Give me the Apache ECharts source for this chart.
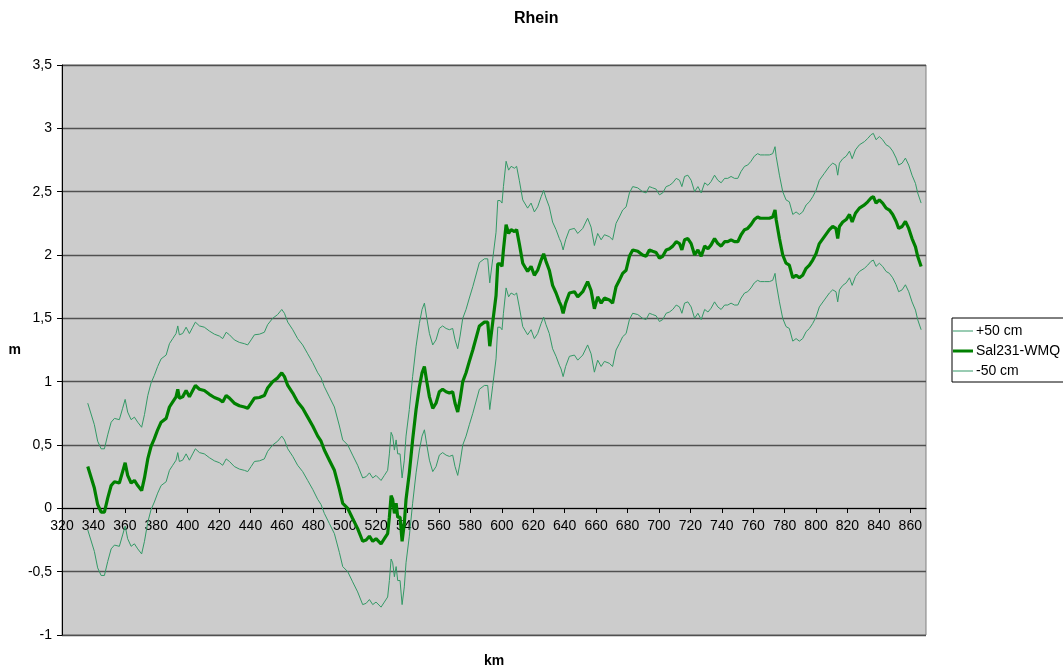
<!DOCTYPE html>
<html>
<head>
<meta charset="utf-8">
<title>Rhein</title>
<script src="https://cdn.jsdelivr.net/npm/echarts@6/dist/echarts.min.js"></script>
<style>
  html, body { margin: 0; padding: 0; background: #ffffff; }
  #chart { width: 1063px; height: 669px; }
</style>
</head>
<body>
<div id="chart"></div>
<script>
// River kilometre positions (km) of the water-level profile
const km = [
  336.4, 340.6, 342.7, 344.9, 347.0, 349.1, 351.3, 353.4, 356.5, 358.6,
  360.2, 361.8, 364.0, 366.1, 368.2, 370.7, 372.5, 374.6, 376.7, 378.8,
  380.9, 383.1, 386.3, 388.4, 390.5, 392.6, 393.7, 394.7, 396.8, 399.0,
  401.1, 403.2, 404.9, 407.5, 410.6, 413.8, 417.0, 420.2, 422.3, 424.5,
  426.6, 429.7, 432.9, 436.1, 438.2, 440.4, 442.5, 445.7, 448.8, 450.9,
  454.1, 457.3, 459.9, 461.6, 463.7, 466.9, 470.0, 473.2, 476.4, 479.6,
  482.8, 484.9, 487.0, 490.2, 493.4, 496.6, 498.7, 501.9, 505.0, 508.2,
  511.4, 513.6, 515.7, 517.8, 519.9, 523.1, 525.2, 527.3, 528.4, 529.5,
  530.5, 531.6, 532.7, 533.7, 535.2, 536.5, 537.9, 539.0, 541.1, 543.2,
  545.4, 547.5, 549.2, 550.7, 552.1, 553.9, 556.0, 558.1, 560.2, 562.3,
  564.5, 566.6, 568.7, 570.2, 571.9, 573.4, 575.1, 577.2, 579.3, 581.5,
  585.7, 588.9, 591.0, 592.3, 594.2, 596.3, 597.4, 598.9, 600.1, 601.0,
  602.7, 604.3, 605.9, 608.0, 609.4, 611.1, 613.3, 616.4, 618.6, 620.7,
  622.8, 625.0, 626.6, 628.1, 630.2, 632.3, 634.5, 636.6, 637.7, 639.0,
  640.6, 643.0, 646.2, 648.3, 651.5, 654.6, 656.8, 658.9, 661.0, 663.2,
  665.3, 668.4, 670.5, 672.7, 674.8, 676.9, 679.1, 681.2, 683.3, 686.5,
  689.6, 691.8, 693.9, 696.0, 698.2, 700.3, 702.4, 704.6, 706.7, 708.8,
  711.0, 713.1, 714.6, 716.3, 718.4, 720.5, 722.7, 724.8, 726.9, 729.1,
  731.2, 733.2, 735.4, 737.5, 739.6, 741.8, 743.8, 745.9, 748.1, 750.2,
  752.3, 754.5, 756.5, 758.6, 760.7, 762.8, 764.5, 767.1, 770.3, 772.4,
  773.9, 774.6, 776.7, 778.8, 780.9, 783.0, 785.2, 787.3, 789.4, 791.5,
  793.7, 795.8, 797.9, 800.0, 802.1, 805.3, 808.5, 810.6, 812.7, 813.8,
  814.9, 817.0, 819.2, 821.3, 823.0, 825.1, 827.6, 830.8, 832.9, 835.0,
  836.5, 838.2, 840.3, 842.4, 844.6, 846.7, 848.8, 851.0, 852.6, 854.8,
  856.9, 859.0, 861.1, 863.3, 864.7, 866.9
];

// Water level Sal231-WMQ (m) at each kilometre
const level = [
  0.33, 0.16, 0.03, -0.03, -0.03, 0.08, 0.18, 0.21, 0.20, 0.29,
  0.36, 0.26, 0.20, 0.22, 0.18, 0.14, 0.24, 0.39, 0.49, 0.55,
  0.62, 0.68, 0.71, 0.80, 0.84, 0.88, 0.94, 0.87, 0.88, 0.93,
  0.88, 0.93, 0.97, 0.94, 0.93, 0.90, 0.875, 0.86, 0.84, 0.89,
  0.87, 0.83, 0.81, 0.80, 0.79, 0.83, 0.87, 0.875, 0.89, 0.95,
  1.00, 1.03, 1.07, 1.04, 0.97, 0.91, 0.84, 0.79, 0.72, 0.65,
  0.57, 0.53, 0.46, 0.38, 0.30, 0.15, 0.04, 0.00, -0.08, -0.16,
  -0.26, -0.25, -0.22, -0.26, -0.24, -0.28, -0.24, -0.20, -0.07, 0.10,
  0.07, -0.04, 0.04, -0.07, -0.07, -0.26, -0.12, 0.07, 0.28, 0.54,
  0.78, 0.96, 1.07, 1.12, 1.01, 0.88, 0.79, 0.83, 0.92, 0.94,
  0.92, 0.91, 0.92, 0.83, 0.76, 0.86, 1.00, 1.07, 1.16, 1.25,
  1.44, 1.47, 1.47, 1.28, 1.47, 1.68, 1.93, 1.93, 1.91, 2.04,
  2.24, 2.17, 2.20, 2.185, 2.20, 2.09, 1.935, 1.87, 1.91, 1.84,
  1.88, 1.96, 2.01, 1.95, 1.88, 1.76, 1.70, 1.63, 1.60, 1.54,
  1.62, 1.70, 1.71, 1.67, 1.71, 1.79, 1.72, 1.575, 1.67, 1.62,
  1.66, 1.645, 1.62, 1.75, 1.80, 1.855, 1.88, 1.99, 2.04, 2.03,
  2.00, 1.99, 2.04, 2.03, 2.02, 1.975, 1.99, 2.04, 2.05, 2.07,
  2.105, 2.09, 2.04, 2.12, 2.13, 2.09, 2.00, 2.04, 1.99, 2.07,
  2.05, 2.08, 2.13, 2.09, 2.07, 2.105, 2.105, 2.12, 2.105, 2.105,
  2.16, 2.20, 2.21, 2.24, 2.28, 2.30, 2.29, 2.29, 2.29, 2.30,
  2.355, 2.28, 2.13, 2.00, 1.935, 1.92, 1.82, 1.84, 1.82, 1.84,
  1.895, 1.92, 1.96, 2.01, 2.09, 2.145, 2.20, 2.225, 2.21, 2.13,
  2.225, 2.26, 2.28, 2.32, 2.26, 2.33, 2.37, 2.395, 2.42, 2.45,
  2.46, 2.41, 2.435, 2.41, 2.37, 2.355, 2.32, 2.265, 2.21, 2.225,
  2.265, 2.21, 2.13, 2.065, 1.99, 1.91
];

// Tolerance band: +/- 50 cm around the water level
const BAND_M = 0.5;

const seriesNames = ['+50 cm', 'Sal231-WMQ', '-50 cm'];

const mainPoints = km.map((k, i) => [k, level[i]]);
const upperPoints = km.map((k, i) => [k, +(level[i] + BAND_M).toFixed(3)]);
const lowerPoints = km.map((k, i) => [k, +(level[i] - BAND_M).toFixed(3)]);

const FONT = 'Liberation Sans, Arial, Helvetica, sans-serif';
const commaNum = v => String(v).replace('.', ',');

// Plain line-segment legend keys: thin for the band, thick for the level
const THIN_KEY = 'path://M0,0H20V1H0Z';
const THICK_KEY = 'path://M0,0H20V3H0Z';

// Plot frame (px) and y range; the km axis is drawn across the 0 m level
const GRID = { left: 62, top: 65, right: 137, bottom: 34 };
const Y_MIN = -1, Y_MAX = 3.5;
const PLOT_H = 669 - GRID.top - GRID.bottom;
const ZERO_SHIFT = Math.round(PLOT_H * (0 - Y_MIN) / (Y_MAX - Y_MIN));

const chart = echarts.init(document.getElementById('chart'), null, { renderer: 'canvas' });

chart.setOption({
  backgroundColor: '#ffffff',
  animation: false,
  textStyle: { fontFamily: FONT },
  title: {
    text: 'Rhein',
    left: 509,
    top: 6,
    textStyle: { fontFamily: FONT, fontSize: 16, fontWeight: 'bold', color: '#000000' }
  },
  legend: {
    orient: 'vertical',
    left: 952,
    top: 318,
    padding: [6, 30, 4, 1],
    itemGap: 6,
    itemWidth: 20,
    itemHeight: 14,
    symbolKeepAspect: true,
    backgroundColor: '#ffffff',
    borderColor: '#000000',
    borderWidth: 1,
    borderRadius: 0,
    data: [
      { name: seriesNames[0], icon: THIN_KEY },
      { name: seriesNames[1], icon: THICK_KEY },
      { name: seriesNames[2], icon: THIN_KEY }
    ],
    textStyle: { fontFamily: FONT, fontSize: 14, color: '#000000', padding: [0, 0, 0, -2] }
  },
  grid: {
    left: GRID.left,
    top: GRID.top,
    right: GRID.right,
    bottom: GRID.bottom,
    show: true,
    backgroundColor: '#cccccc',
    borderColor: '#808080',
    borderWidth: 1,
    containLabel: false,
    outerBoundsMode: 'none'
  },
  xAxis: {
    type: 'value',
    position: 'bottom',
    offset: -ZERO_SHIFT,
    min: 320,
    max: 870,
    interval: 20,
    name: 'km',
    nameLocation: 'middle',
    nameGap: 146,
    nameTextStyle: { fontFamily: FONT, fontSize: 14, fontWeight: 'bold', color: '#000000' },
    axisLine: { show: true, onZero: false, lineStyle: { color: '#000000', width: 1 } },
    axisTick: { show: true, length: 5, lineStyle: { color: '#000000' } },
    axisLabel: {
      fontFamily: FONT, fontSize: 14, color: '#000000', margin: 11,
      showMaxLabel: false
    },
    splitLine: { show: false }
  },
  yAxis: {
    type: 'value',
    min: Y_MIN,
    max: Y_MAX,
    interval: 0.5,
    name: 'm',
    nameLocation: 'middle',
    nameRotate: 0,
    nameGap: 41,
    nameTextStyle: { fontFamily: FONT, fontSize: 14, fontWeight: 'bold', color: '#000000' },
    axisLine: { show: true, lineStyle: { color: '#000000', width: 1 } },
    axisTick: { show: true, length: 5, lineStyle: { color: '#000000' } },
    axisLabel: { fontFamily: FONT, fontSize: 14, color: '#000000', margin: 10, formatter: commaNum },
    splitLine: { show: true, lineStyle: { color: '#505050', width: 1.3 } }
  },
  series: [
    {
      name: seriesNames[0],
      type: 'line',
      data: upperPoints,
      symbol: 'none',
      showSymbol: false,
      lineStyle: { color: '#339966', width: 1 },
      itemStyle: { color: '#339966' },
      z: 2
    },
    {
      name: seriesNames[1],
      type: 'line',
      data: mainPoints,
      symbol: 'none',
      showSymbol: false,
      lineStyle: { color: '#008000', width: 3.2 },
      itemStyle: { color: '#008000' },
      z: 3
    },
    {
      name: seriesNames[2],
      type: 'line',
      data: lowerPoints,
      symbol: 'none',
      showSymbol: false,
      lineStyle: { color: '#339966', width: 1 },
      itemStyle: { color: '#339966' },
      z: 2
    }
  ]
});
</script>
</body>
</html>
